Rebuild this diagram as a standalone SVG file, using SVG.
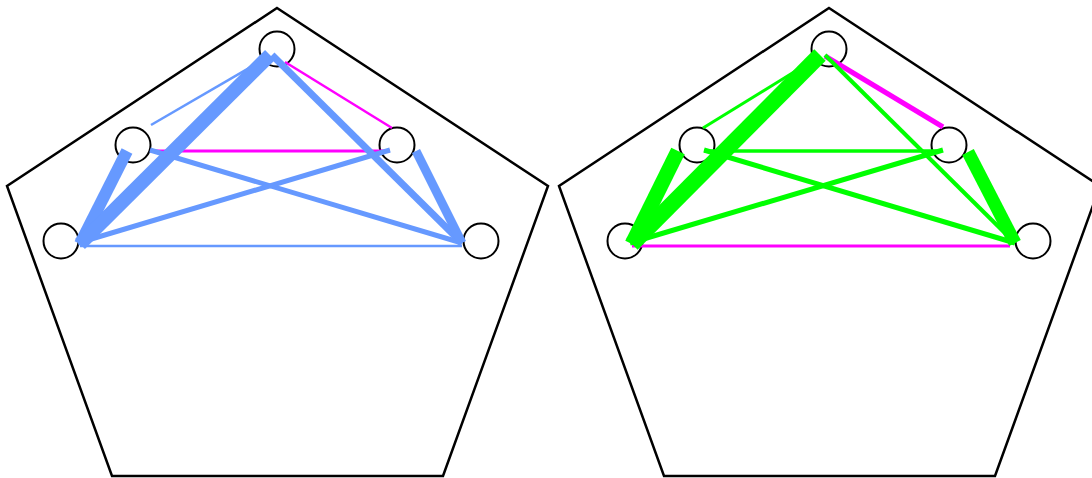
<svg xmlns="http://www.w3.org/2000/svg" width="1092" height="478" viewBox="0 0 1092 478">
<style>
.pent{fill:none;stroke:#000;stroke-width:2.5}
.node{fill:none;stroke:#000;stroke-width:2}
.b{stroke:#6699ff;fill:none;stroke-linecap:butt}
.g{stroke:#00ff00;fill:none;stroke-linecap:butt}
.m{stroke:#ff00ff;fill:none;stroke-linecap:butt}
</style>
<rect width="1092" height="478" fill="#fff"/>
<polygon class="pent" points="277,8 548,186 443,476 112,476 7,186"/>
<polygon class="pent" points="829,8 1100,186 995,476 664,476 559,186"/>
<g id="n-l-top"><circle class="node" cx="277" cy="49" r="17.5"/></g>
<g id="n-l-lm"><circle class="node" cx="133" cy="145" r="17.5"/></g>
<g id="n-l-bl"><circle class="node" cx="61" cy="241" r="17.5"/></g>
<g id="n-l-rm"><circle class="node" cx="397" cy="145" r="17.5"/></g>
<g id="n-l-br"><circle class="node" cx="481" cy="241" r="17.5"/></g>
<g id="n-r-top"><circle class="node" cx="829" cy="49" r="17.5"/></g>
<g id="n-r-lm"><circle class="node" cx="697" cy="145" r="17.5"/></g>
<g id="n-r-bl"><circle class="node" cx="625" cy="241" r="17.5"/></g>
<g id="n-r-rm"><circle class="node" cx="949" cy="145" r="17.5"/></g>
<g id="n-r-br"><circle class="node" cx="1033" cy="241" r="17.5"/></g>
<g id="connectors-left">
<line class="b" x1="151" y1="125" x2="268" y2="57" stroke-width="2.5"/>
<line class="m" x1="285" y1="62" x2="392" y2="128" stroke-width="2.5"/>
<line class="m" x1="150" y1="151" x2="390" y2="151" stroke-width="3"/>
<line class="b" x1="80" y1="246" x2="462" y2="246" stroke-width="2.5"/>
<line class="b" x1="150" y1="150" x2="462" y2="243" stroke-width="5"/>
<line class="b" x1="390" y1="150" x2="78" y2="243" stroke-width="5"/>
<line class="b" x1="272" y1="55" x2="462" y2="243" stroke-width="7"/>
<line class="b" x1="416" y1="151" x2="462" y2="243" stroke-width="9"/>
<line class="b" x1="127" y1="151" x2="80" y2="244" stroke-width="12"/>
<line class="b" x1="270" y1="55" x2="80" y2="244" stroke-width="14"/>
</g>
<g id="connectors-right">
<line class="g" x1="703" y1="128" x2="820" y2="56" stroke-width="3"/>
<line class="m" x1="825" y1="56" x2="943" y2="127" stroke-width="5"/>
<line class="g" x1="704" y1="151" x2="941" y2="151" stroke-width="3.5"/>
<line class="m" x1="632" y1="246" x2="1010" y2="246" stroke-width="3"/>
<line class="g" x1="704" y1="150" x2="1015" y2="243" stroke-width="5"/>
<line class="g" x1="943" y1="150" x2="630" y2="243" stroke-width="5"/>
<line class="g" x1="825" y1="55" x2="1015" y2="243" stroke-width="4"/>
<line class="g" x1="968" y1="152" x2="1015" y2="243" stroke-width="13"/>
<line class="g" x1="678" y1="151" x2="632" y2="244" stroke-width="15"/>
<line class="g" x1="820" y1="55" x2="632" y2="244" stroke-width="16"/>
</g>
</svg>
